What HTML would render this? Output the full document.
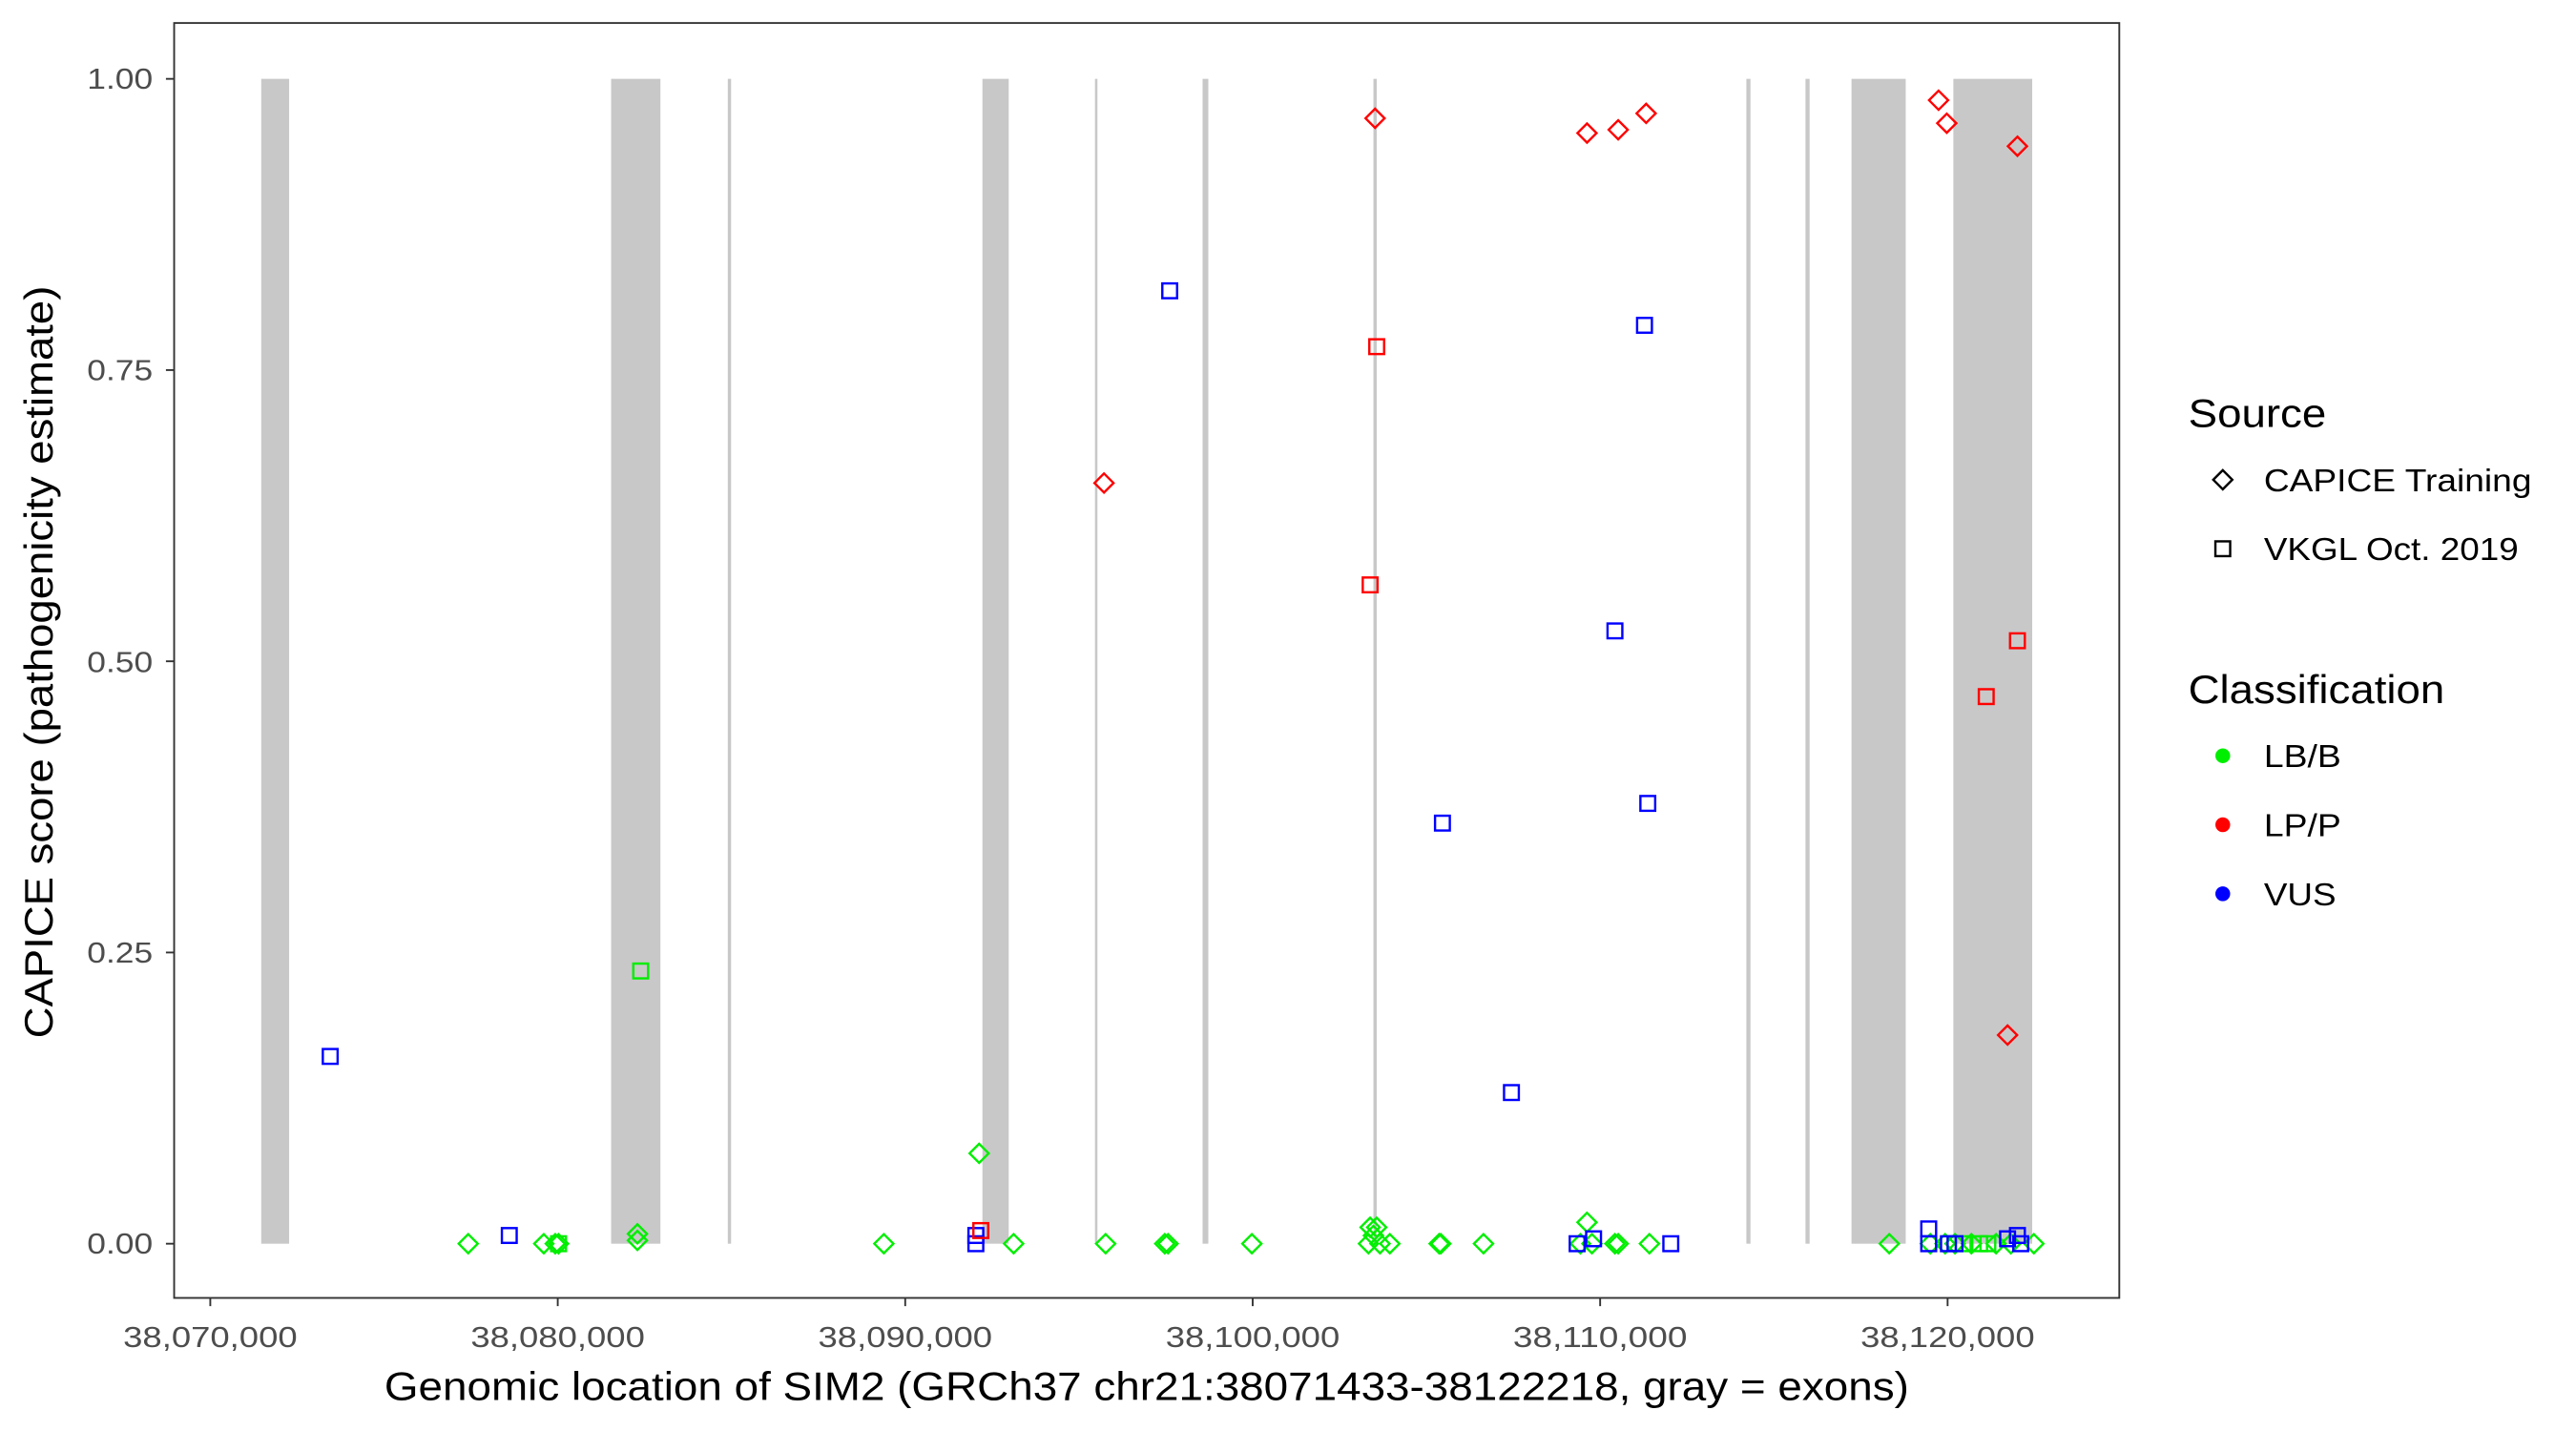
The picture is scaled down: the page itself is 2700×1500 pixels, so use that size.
<!DOCTYPE html>
<html><head><meta charset="utf-8"><style>html,body{margin:0;padding:0;background:#fff}svg{display:block}</style></head>
<body>
<svg width="2700" height="1500" viewBox="0 0 1568 871" preserveAspectRatio="none" xmlns="http://www.w3.org/2000/svg" font-family="Liberation Sans, Arial, sans-serif">
<rect width="1568" height="871" fill="#fff"/>
<g fill="#c8c8c8">
<rect x="159" y="48" width="17" height="709"/>
<rect x="372" y="48" width="30" height="709"/>
<rect x="443" y="48" width="2" height="709"/>
<rect x="598" y="48" width="16" height="709"/>
<rect x="666.5" y="48" width="1.5" height="709"/>
<rect x="732" y="48" width="3.5" height="709"/>
<rect x="836" y="48" width="2" height="709"/>
<rect x="1063" y="48" width="2.5" height="709"/>
<rect x="1099" y="48" width="2.5" height="709"/>
<rect x="1127" y="48" width="33" height="709"/>
<rect x="1189" y="48" width="48" height="709"/>
</g>
<defs>
<path id="d" d="M0,-5.8 L5.8,0 L0,5.8 L-5.8,0 Z" fill="none" stroke-width="1.4"/>
<rect id="s" x="-4.5" y="-4.5" width="9" height="9" fill="none" stroke-width="1.4"/>
</defs>
<g stroke="#00ee00">
<use href="#s" x="390" y="591"/><use href="#s" x="340" y="757"/><use href="#s" x="1205" y="757"/><use href="#s" x="1195" y="757"/><use href="#s" x="1210" y="757"/>
<use href="#d" x="285" y="757"/><use href="#d" x="331" y="757"/><use href="#d" x="338" y="757"/><use href="#d" x="340" y="757"/><use href="#d" x="388" y="751"/><use href="#d" x="388" y="755"/><use href="#d" x="596" y="702"/><use href="#d" x="617" y="757"/><use href="#d" x="538" y="757"/><use href="#d" x="673" y="757"/><use href="#d" x="709" y="757"/><use href="#d" x="711" y="757"/><use href="#d" x="762" y="757"/><use href="#d" x="834" y="747"/><use href="#d" x="838" y="747"/><use href="#d" x="833" y="757"/><use href="#d" x="836" y="752"/><use href="#d" x="840" y="757"/><use href="#d" x="846" y="757"/><use href="#d" x="876" y="757"/><use href="#d" x="877" y="757"/><use href="#d" x="903" y="757"/><use href="#d" x="966" y="744"/><use href="#d" x="962" y="757"/><use href="#d" x="969" y="757"/><use href="#d" x="985" y="757"/><use href="#d" x="983" y="757"/><use href="#d" x="1004" y="757"/><use href="#d" x="1150" y="757"/><use href="#d" x="1175" y="757"/><use href="#d" x="1184" y="757"/><use href="#d" x="1190" y="757"/><use href="#d" x="1200" y="757"/><use href="#d" x="1215" y="757"/><use href="#d" x="1238" y="757"/><use href="#d" x="1224" y="757"/>
</g>
<g stroke="#0000ff">
<use href="#s" x="201" y="643"/><use href="#s" x="310" y="752"/><use href="#s" x="594" y="752"/><use href="#s" x="712" y="177"/><use href="#s" x="878" y="501"/><use href="#s" x="920" y="665"/><use href="#s" x="1001" y="198"/><use href="#s" x="983" y="384"/><use href="#s" x="1003" y="489"/><use href="#s" x="970" y="754"/><use href="#s" x="1017" y="757"/><use href="#s" x="1174" y="748"/><use href="#s" x="1174" y="757"/><use href="#s" x="1186" y="757"/><use href="#s" x="1190" y="757"/><use href="#s" x="1222" y="754"/><use href="#s" x="1230" y="757"/><use href="#s" x="960" y="757"/><use href="#s" x="1228" y="752"/><use href="#s" x="594" y="757"/>
</g>
<g stroke="#ff0000">
<use href="#d" x="837" y="72"/><use href="#d" x="966" y="81"/><use href="#d" x="985" y="79"/><use href="#d" x="1002" y="69"/><use href="#d" x="1180" y="61"/><use href="#d" x="1185" y="75"/><use href="#d" x="1228" y="89"/><use href="#d" x="672" y="294"/><use href="#d" x="1222" y="630"/>
<use href="#s" x="597" y="749"/><use href="#s" x="838" y="211"/><use href="#s" x="834" y="356"/><use href="#s" x="1228" y="390"/><use href="#s" x="1209" y="424"/>
</g>
<rect x="106" y="14" width="1184" height="776" fill="none" stroke="#333" stroke-width="1.1"/>
<g stroke="#333" stroke-width="1.1">
<line x1="101" y1="48" x2="106" y2="48"/><line x1="101" y1="225.25" x2="106" y2="225.25"/><line x1="101" y1="402.5" x2="106" y2="402.5"/><line x1="101" y1="579.75" x2="106" y2="579.75"/><line x1="101" y1="757" x2="106" y2="757"/>
<line x1="128" y1="790" x2="128" y2="795"/><line x1="339.5" y1="790" x2="339.5" y2="795"/><line x1="551" y1="790" x2="551" y2="795"/><line x1="762.5" y1="790" x2="762.5" y2="795"/><line x1="974" y1="790" x2="974" y2="795"/><line x1="1185.5" y1="790" x2="1185.5" y2="795"/>
</g>
<g fill="#4d4d4d" font-size="18" text-anchor="end">
<text x="93" y="54" textLength="40" lengthAdjust="spacingAndGlyphs">1.00</text><text x="93" y="231.5" textLength="40" lengthAdjust="spacingAndGlyphs">0.75</text><text x="93" y="409" textLength="40" lengthAdjust="spacingAndGlyphs">0.50</text><text x="93" y="586" textLength="40" lengthAdjust="spacingAndGlyphs">0.25</text><text x="93" y="763" textLength="40" lengthAdjust="spacingAndGlyphs">0.00</text>
</g>
<g fill="#4d4d4d" font-size="18" text-anchor="middle">
<text x="128" y="820" textLength="106" lengthAdjust="spacingAndGlyphs">38,070,000</text><text x="339.5" y="820" textLength="106" lengthAdjust="spacingAndGlyphs">38,080,000</text><text x="551" y="820" textLength="106" lengthAdjust="spacingAndGlyphs">38,090,000</text><text x="762.5" y="820" textLength="106" lengthAdjust="spacingAndGlyphs">38,100,000</text><text x="974" y="820" textLength="106" lengthAdjust="spacingAndGlyphs">38,110,000</text><text x="1185.5" y="820" textLength="106" lengthAdjust="spacingAndGlyphs">38,120,000</text>
</g>
<text x="698" y="852" font-size="24" text-anchor="middle" fill="#000" textLength="928" lengthAdjust="spacingAndGlyphs">Genomic location of SIM2 (GRCh37 chr21:38071433-38122218, gray = exons)</text>
<text transform="translate(32,403) rotate(-90)" font-size="24" text-anchor="middle" fill="#000" textLength="458" lengthAdjust="spacingAndGlyphs">CAPICE score (pathogenicity estimate)</text>
<text x="1332" y="260" font-size="24" fill="#000" textLength="84" lengthAdjust="spacingAndGlyphs">Source</text>
<use href="#d" x="1353" y="292" stroke="#000"/>
<text x="1378" y="299" font-size="19.5" textLength="163" lengthAdjust="spacingAndGlyphs">CAPICE Training</text>
<use href="#s" x="1353" y="334" stroke="#000"/>
<text x="1378" y="341" font-size="19.5" textLength="155" lengthAdjust="spacingAndGlyphs">VKGL Oct. 2019</text>
<text x="1332" y="428" font-size="24" fill="#000" textLength="156" lengthAdjust="spacingAndGlyphs">Classification</text>
<circle cx="1353" cy="460" r="4.5" fill="#00ee00"/><text x="1378" y="467" font-size="19.5" textLength="47" lengthAdjust="spacingAndGlyphs">LB/B</text>
<circle cx="1353" cy="502" r="4.5" fill="#ff0000"/><text x="1378" y="509" font-size="19.5" textLength="47" lengthAdjust="spacingAndGlyphs">LP/P</text>
<circle cx="1353" cy="544" r="4.5" fill="#0000ff"/><text x="1378" y="551" font-size="19.5" textLength="44" lengthAdjust="spacingAndGlyphs">VUS</text>
</svg>
</body></html>
